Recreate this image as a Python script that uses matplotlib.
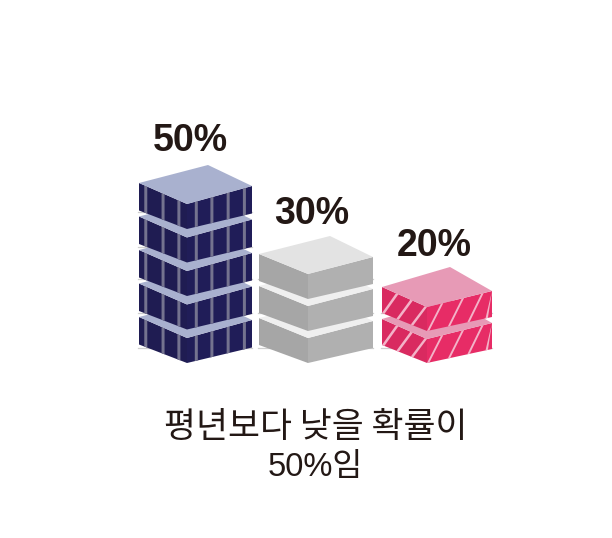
import matplotlib
matplotlib.use("Agg")
import matplotlib.pyplot as plt
from matplotlib.patches import Polygon

# data
categories = ["낮음", "평년", "높음"]
values = [50, 30, 20]
labels = ["50%", "30%", "20%"]
caption_words = ["평년보다", "낮을", "확률이"]
caption_line2 = "50%임"
UNIT = 10  # one block per 10 %

# styles
top_colors = ["#a9b1cf", "#e3e3e3", "#e79ab6"]
gap_top_colors = ["#a9b1cf", "#efefef", "#e79ab6"]
left_colors = ["#1f1c52", "#a6a6a6", "#d92a60"]
right_colors = ["#201d58", "#b0b0b0", "#e72c66"]
stripe_colors = ["#74738f", None, "#f3b3c8"]
TEXT = "#231815"

geoms = [
    dict(l=139, r=252, b=208, f=187, ly=18, ry=21, fy=39),
    dict(l=259, r=373, b=330, f=308, ly=18, ry=21, fy=38),
    dict(l=382, r=492, b=450, f=427, ly=20, ry=24, fy=40),
]
left_stripes = [[0.11, 0.47, 0.80], [], [0.0, 0.32, 0.64]]
right_stripes = [[0.12, 0.36, 0.61, 0.86], [], [0.0, 0.32, 0.62, 0.90]]
stripe_w = [3.0, 0, 2.4]
stripe_slant = [0, 0, 14]
BOTTOM = 363
BLOCK_H = [25, 25, 24]
CORNER_EXTRA = [2.5, 2, 2]
PITCH = [33.5, 32, 32]
grid_y = [348, 313, 279, 247, 212]

fig = plt.figure(figsize=(6.12, 5.38), dpi=100, facecolor="white")
ax = fig.add_axes([0, 0, 1, 1])
ax.set_xlim(0, 612)
ax.set_ylim(538, 0)
ax.axis("off")

zc = [3.0]


def next_z():
    zc[0] += 0.01
    return zc[0]


def edge_y(a, b, x):
    return a[1] + (b[1] - a[1]) * (x - a[0]) / (b[0] - a[0])


def draw_stripes(a, b, a2, b2, fracs, width, slant, color):
    span = b[0] - a[0]
    for t in fracs:
        xb0 = a[0] + span * t
        xb1 = min(xb0 + width, b[0])
        xt0 = min(xb0 + slant, b[0])
        xt1 = min(xb0 + width + slant, b[0])
        poly = [(xb0, edge_y(a2, b2, xb0)), (xb1, edge_y(a2, b2, xb1)),
                (xt1, edge_y(a, b, xt1)), (xt0, edge_y(a, b, xt0))]
        ax.add_patch(Polygon(poly, closed=True, fc=color, ec="none", zorder=next_z()))


for k, v in enumerate(values):
    g = geoms[k]
    n = v // UNIT
    h = BLOCK_H[k]
    e = CORNER_EXTRA[k]
    for y in grid_y[:n]:
        ax.plot([g["l"] - 1, g["r"]], [y, y], color="#cfcfcf", lw=0.9, zorder=1)
    for j in range(n):
        fy_bottom = BOTTOM - j * PITCH[k]
        fy_top = fy_bottom - h
        by = fy_top - g["fy"]
        L = (g["l"], by + g["ly"])
        R = (g["r"], by + g["ry"])
        B = (g["b"], by)
        F = (g["f"], fy_top)
        L2 = (L[0], L[1] + h + e)
        R2 = (R[0], R[1] + h + e)
        F2 = (F[0], F[1] + h)
        z = next_z()
        ax.add_patch(Polygon([L, F, F2, L2], fc=left_colors[k], ec="none", zorder=z))
        ax.add_patch(Polygon([F, R, R2, F2], fc=right_colors[k], ec="none", zorder=z))
        if stripe_colors[k]:
            draw_stripes(L, F, L2, F2, left_stripes[k], stripe_w[k], stripe_slant[k], stripe_colors[k])
            draw_stripes(F, R, F2, R2, right_stripes[k], stripe_w[k], stripe_slant[k], stripe_colors[k])
        top = top_colors[k] if j == n - 1 else gap_top_colors[k]
        ax.add_patch(Polygon([L, B, R, F], fc=top, ec="none", zorder=next_z()))

label_x = [190, 312, 434]
label_y = [141, 214, 246]
for x, y, t in zip(label_x, label_y, labels):
    ax.text(x, y, t, ha="center", va="center", fontsize=27, fontweight="bold",
            family="Liberation Sans", color=TEXT, zorder=20)

ax.text(316, 428, " ".join(caption_words), ha="center", va="center", fontsize=25,
        family="Noto Sans CJK KR", color=TEXT, zorder=20)
ax.text(315, 467, caption_line2, ha="center", va="center", fontsize=23.5,
        family=["Liberation Sans", "Noto Sans CJK KR"], color=TEXT, zorder=20)

fig.savefig("out.png", dpi=100, facecolor="white")
